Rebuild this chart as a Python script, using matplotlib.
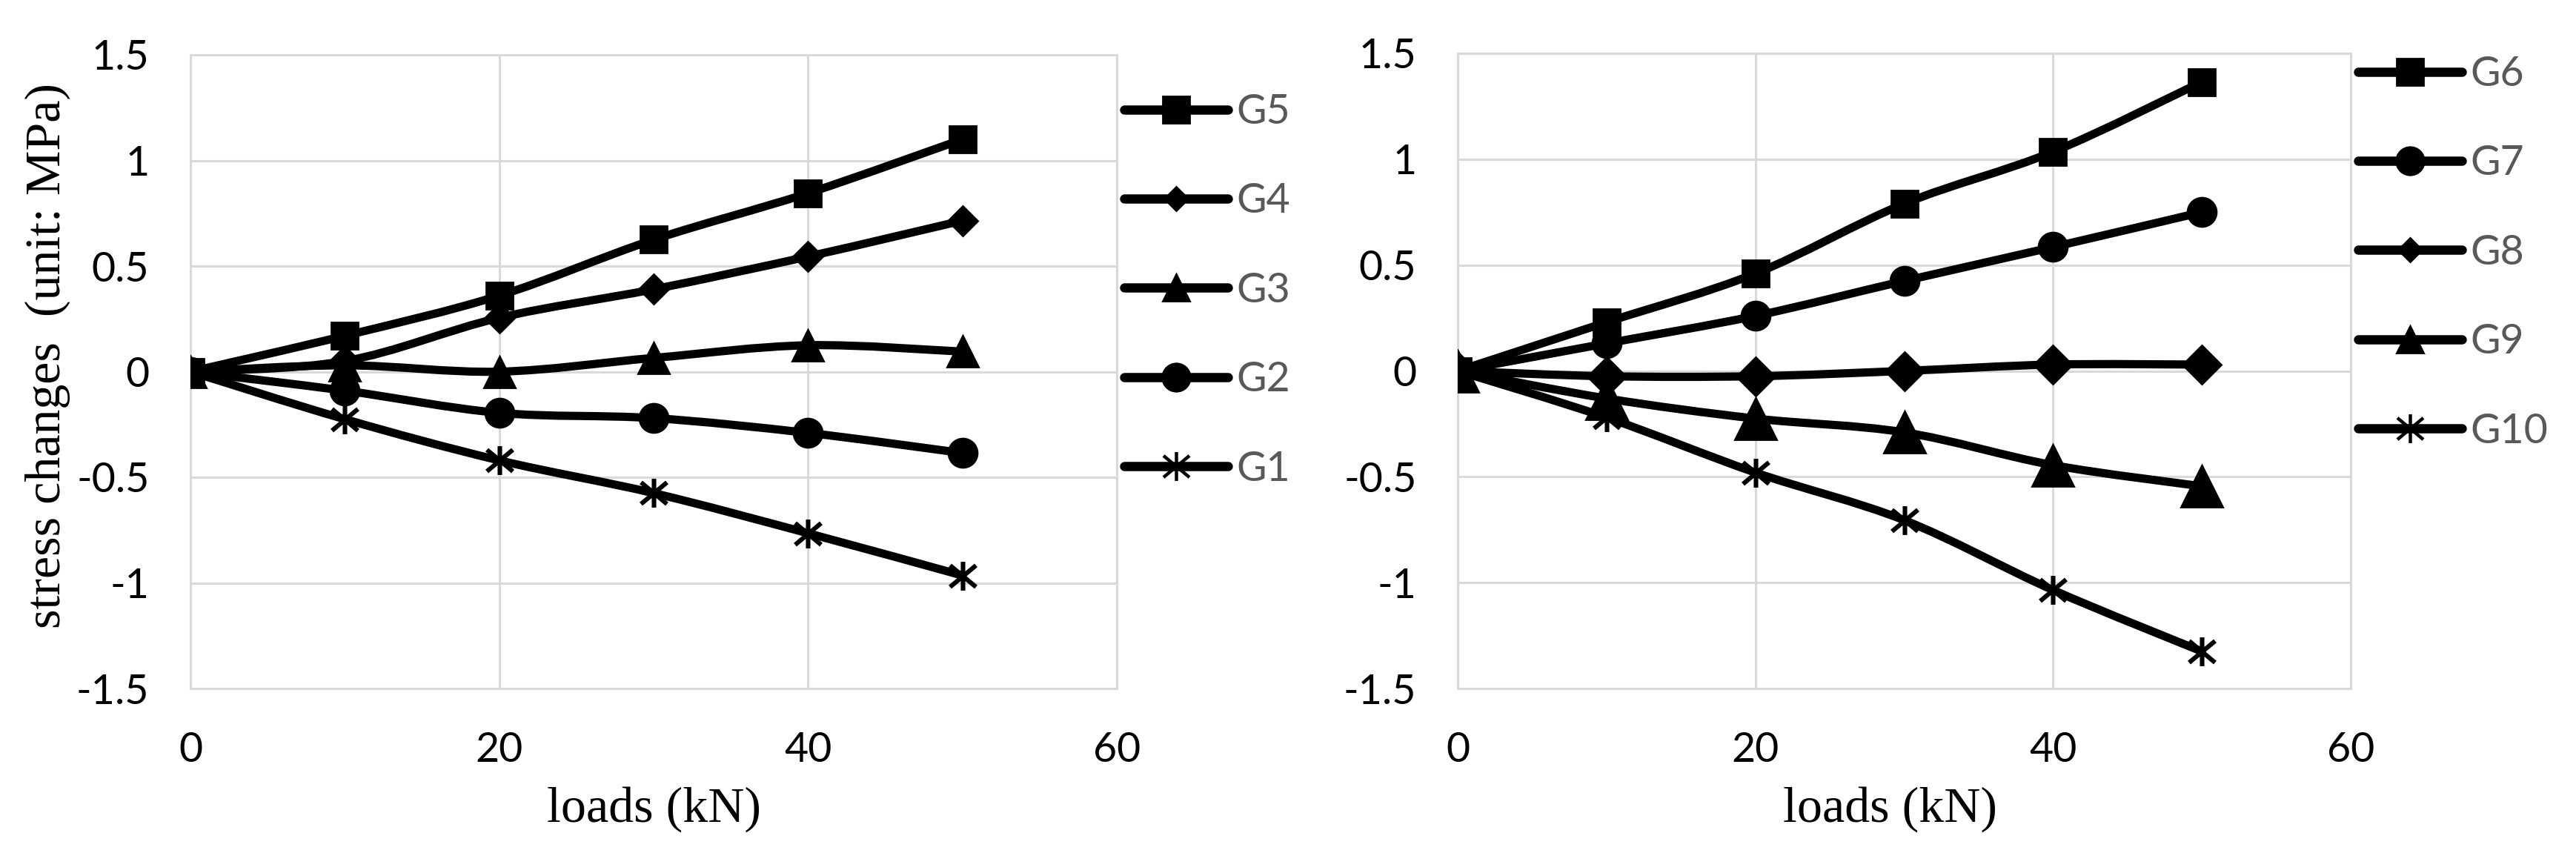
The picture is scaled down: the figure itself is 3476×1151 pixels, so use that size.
import numpy as np
import matplotlib
matplotlib.use('Agg')
import matplotlib.pyplot as plt
from matplotlib.path import Path
from matplotlib.patches import PathPatch
from matplotlib.lines import Line2D
from matplotlib.ticker import FuncFormatter

# data
loads = [0, 10, 20, 30, 40, 50]

g5 = [0, 0.17, 0.36, 0.625, 0.845, 1.10]
g4 = [0, 0.05, 0.255, 0.39, 0.545, 0.715]
g3 = [0, 0.03, 0.0, 0.065, 0.125, 0.095]
g2 = [0, -0.09, -0.195, -0.22, -0.29, -0.385]
g1 = [0, -0.225, -0.42, -0.575, -0.765, -0.965]

g6 = [0, 0.23, 0.46, 0.79, 1.035, 1.365]
g7 = [0, 0.13, 0.26, 0.425, 0.585, 0.75]
g8 = [0, -0.025, -0.025, 0.0, 0.03, 0.03]
g9 = [0, -0.13, -0.225, -0.29, -0.445, -0.545]
g10 = [0, -0.22, -0.48, -0.705, -1.035, -1.325]

left_names = ['G5', 'G4', 'G3', 'G2', 'G1']
right_names = ['G6', 'G7', 'G8', 'G9', 'G10']

x_ticks = [0, 20, 40, 60]
y_ticks = [-1.5, -1, -0.5, 0, 0.5, 1, 1.5]

# asterisk marker like the excel "star"
star = Path([(0, -1), (0, 1), (-0.9, -0.75), (0.9, 0.75), (-0.9, 0.75), (0.9, -0.75)],
            [Path.MOVETO, Path.LINETO, Path.MOVETO, Path.LINETO, Path.MOVETO, Path.LINETO])

GRID = '#d9d9d9'
LW = 4.0


def smooth_path(x, y):
    # excel-ish smoothed line: catmull-rom as cubic beziers
    pts = np.column_stack([x, y]).astype(float)
    n = len(pts)
    verts = [pts[0]]
    codes = [Path.MOVETO]
    for i in range(n - 1):
        p0 = pts[max(i - 1, 0)]
        p1 = pts[i]
        p2 = pts[i + 1]
        p3 = pts[min(i + 2, n - 1)]
        c1 = p1 + (p2 - p0) / 6.0
        c2 = p2 - (p3 - p1) / 6.0
        verts += [c1, c2, p2]
        codes += [Path.CURVE4] * 3
    return Path(verts, codes)


def fmt(v, pos):
    return '%g' % v


def style_axes(ax):
    ax.set_xlim(0, 60)
    ax.set_ylim(-1.5, 1.5)
    ax.set_xticks(x_ticks)
    ax.set_yticks(y_ticks)
    ax.yaxis.set_major_formatter(FuncFormatter(fmt))
    ax.grid(True, color=GRID, lw=1.1)
    ax.set_axisbelow(True)
    for s in ax.spines.values():
        s.set_color(GRID)
        s.set_linewidth(1.1)
    ax.tick_params(length=0, labelsize=20, colors='black')
    ax.tick_params(axis='y', pad=20)
    ax.tick_params(axis='x', pad=21)
    for lab in ax.get_xticklabels() + ax.get_yticklabels():
        lab.set_fontfamily('Lato')


def draw_series(ax, ys, marker, ms, open_marker=False):
    ax.add_patch(PathPatch(smooth_path(loads, ys), fill=False, lw=LW, ec='black',
                           capstyle='round', joinstyle='round', zorder=3))
    if open_marker:
        ax.plot(loads, ys, ls='none', marker=marker, ms=ms, mfc='none', mec='black',
                mew=2.2, zorder=4)
    else:
        ax.plot(loads, ys, ls='none', marker=marker, ms=ms, mfc='black', mec='black',
                mew=1.0, zorder=4)


def legend_handles(specs):
    hs = []
    for marker, ms, open_marker in specs:
        if open_marker:
            hs.append(Line2D([], [], color='black', lw=4.5, marker=marker, ms=ms,
                             mfc='none', mec='black', mew=1.6, solid_capstyle='round'))
        else:
            hs.append(Line2D([], [], color='black', lw=4.5, marker=marker, ms=ms,
                             mfc='black', mec='black', mew=1.0, solid_capstyle='round'))
    return hs


fig = plt.figure(figsize=(17.38, 5.755), dpi=200)
fig.patch.set_facecolor('white')

W, H = 3476.0, 1151.0
ax1 = fig.add_axes([257 / W, 1 - 929 / H, 1250 / W, 855 / H])
ax2 = fig.add_axes([1967 / W, 1 - 929 / H, 1205 / W, 857 / H])

style_axes(ax1)
style_axes(ax2)

# left chart
draw_series(ax1, g1, star, 14, open_marker=True)
draw_series(ax1, g2, 'o', 14)
draw_series(ax1, g3, '^', 15)
draw_series(ax1, g4, 'D', 10)
draw_series(ax1, g5, 's', 13)

# right chart
draw_series(ax2, g10, star, 14, open_marker=True)
draw_series(ax2, g9, '^', 20)
draw_series(ax2, g8, 'D', 13)
draw_series(ax2, g7, 'o', 14)
draw_series(ax2, g6, 's', 13)

left_specs = [('s', 13, False), ('D', 8, False), ('^', 13, False), ('o', 13.5, False), (star, 14, True)]
right_specs = [('s', 13, False), ('o', 13.5, False), ('D', 8, False), ('^', 13, False), (star, 14, True)]

leg_kw = dict(frameon=False, handlelength=2.52, handletextpad=0.2,
              labelspacing=1.25, borderpad=0, borderaxespad=0, loc='upper left',
              labelcolor='#595959', prop={'family': 'Lato', 'size': 20})

ax1.legend(legend_handles(left_specs), left_names,
           bbox_to_anchor=(1517 / W, 1 - 126 / H), bbox_transform=fig.transFigure, **leg_kw)
ax2.legend(legend_handles(right_specs), right_names,
           bbox_to_anchor=(3182 / W, 1 - 75 / H), bbox_transform=fig.transFigure, **leg_kw)

fig.text(882 / W, 1 - 1092 / H, 'loads (kN)', ha='center', va='center',
         family='Liberation Serif', fontsize=24.5)
fig.text(2550 / W, 1 - 1092 / H, 'loads (kN)', ha='center', va='center',
         family='Liberation Serif', fontsize=24.5)
fig.text(64 / W, 1 - 480 / H, 'stress changes  (unit: MPa)', ha='center', va='center',
         rotation=90, family='Liberation Serif', fontsize=24.5)

fig.savefig('out.png', dpi=200, facecolor='white')
